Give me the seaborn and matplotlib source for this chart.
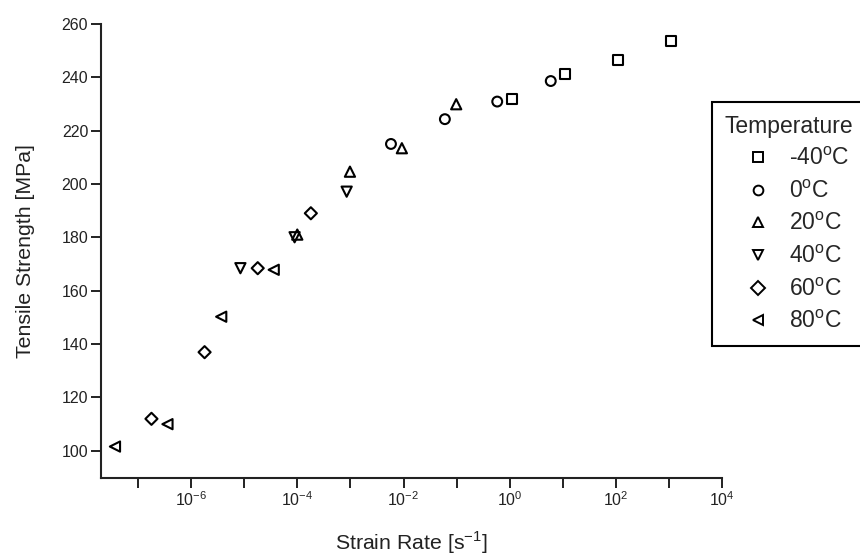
import numpy as np
import pandas as pd
import matplotlib
matplotlib.use("Agg")
import matplotlib.pyplot as plt
import seaborn as sns
from matplotlib.lines import Line2D
from matplotlib.ticker import FixedLocator, FixedFormatter

# ---- data ----
temps = ["-40", "0", "20", "40", "60", "80"]
markers = ["s", "o", "^", "v", "D", "<"]

rate_m40 = [1.1, 11.0, 110.0, 1100.0]
ts_m40 = [232.0, 241.3, 246.5, 253.7]

rate_0 = [0.0058, 0.060, 0.58, 5.9]
ts_0 = [215.0, 224.3, 230.9, 238.6]

rate_20 = [0.0001, 0.00098, 0.0093, 0.098]
ts_20 = [181.0, 204.6, 213.4, 229.9]

rate_40 = [8.5e-6, 8.9e-5, 8.5e-4]
ts_40 = [168.4, 180.0, 197.1]

rate_60 = [1.8e-7, 1.8e-6, 1.8e-5, 1.8e-4]
ts_60 = [111.9, 136.9, 168.4, 189.0]

rate_80 = [3.7e-8, 3.6e-7, 3.7e-6, 3.6e-5]
ts_80 = [101.5, 109.9, 150.2, 167.8]

y_ticks = [100, 120, 140, 160, 180, 200, 220, 240, 260]
x_decades = list(range(-7, 5))

rates = [rate_m40, rate_0, rate_20, rate_40, rate_60, rate_80]
strengths = [ts_m40, ts_0, ts_20, ts_40, ts_60, ts_80]

rows = []
for t, r, s in zip(temps, rates, strengths):
    for ri, si in zip(r, s):
        rows.append({"Temperature": t, "rate": ri, "ts": si})
df = pd.DataFrame(rows)

# ---- plot ----
sns.set_style("ticks")
plt.rcParams["font.family"] = ["Liberation Sans", "DejaVu Sans"]
plt.rcParams["mathtext.fontset"] = "custom"
plt.rcParams["mathtext.rm"] = "Liberation Sans"

fig = plt.figure(figsize=(8.6, 5.59), dpi=100)
ax = fig.add_axes([0.1171, 0.1444, 0.7228, 0.8127])

mk_sizes = {"s": 50, "o": 50, "^": 54, "v": 54, "D": 38, "<": 54}
for t, m in zip(temps, markers):
    sub = df[df["Temperature"] == t]
    sns.scatterplot(data=sub, x="rate", y="ts", marker=m, s=mk_sizes[m],
                    facecolor="none", edgecolor="black", linewidth=1.5,
                    ax=ax, legend=False, zorder=3)

ax.set_xscale("log")
ax.set_xlim(10 ** -7.7, 1e4)
ax.set_ylim(89.6, 260)

ax.xaxis.set_major_locator(FixedLocator([10.0 ** d for d in x_decades]))
xlabels = [f"$10^{{{d}}}$" if d % 2 == 0 else "" for d in x_decades]
ax.xaxis.set_major_formatter(FixedFormatter(xlabels))
ax.xaxis.set_minor_locator(FixedLocator([]))
ax.set_yticks(y_ticks)

for side in ["top", "right"]:
    ax.spines[side].set_visible(False)
for side in ["left", "bottom"]:
    ax.spines[side].set_linewidth(1.5)
    ax.spines[side].set_color("#222222")
ax.tick_params(axis="both", direction="out", length=7, width=1.4,
               color="#222222", labelsize=11.5, labelcolor="#222222", pad=2)

ax.set_xlabel("Strain Rate [s$^{-1}$]", fontsize=15.3, color="#222222", labelpad=14)
ax.set_ylabel("Tensile Strength [MPa]", fontsize=15.3, color="#222222", labelpad=19)

handles = [Line2D([], [], linestyle="none", marker=m, markersize=7,
                  markerfacecolor="none", markeredgecolor="black",
                  markeredgewidth=1.4) for m in markers]
labels = [f"{t}$^{{\\mathrm{{o}}}}$C" for t in temps]
leg = fig.legend(handles, labels, title="Temperature", loc="upper left",
                 bbox_to_anchor=(712 / 860, 1 - 102 / 559), borderaxespad=0,
                 frameon=True, fancybox=False, edgecolor="black",
                 framealpha=1, fontsize=16.5, title_fontsize=16.5,
                 labelspacing=0.42, handletextpad=0.1, borderpad=0.55,
                 handlelength=2.5)
leg.get_frame().set_linewidth(1.5)

fig.savefig("out.png", dpi=100)
